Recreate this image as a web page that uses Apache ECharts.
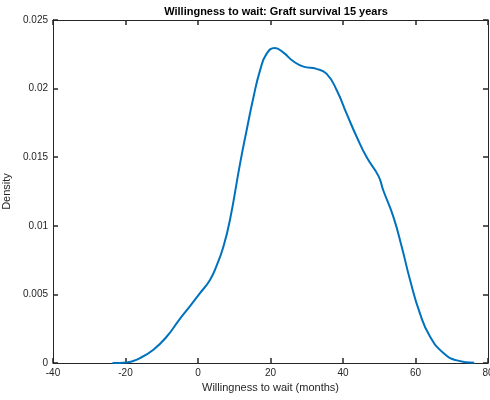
<!DOCTYPE html>
<html>
<head>
  <meta charset="UTF-8">
  <title>Willingness to wait</title>
  <script src="https://cdn.jsdelivr.net/npm/echarts@6/dist/echarts.min.js"></script>
</head>
<body style="margin:0">
  <div id="main" style="width: 490px;height: 400px;"></div>
  <script>
    // kernel density
    var waitMonths = [-23.6, -19.7, -16, -12.3, -8.6, -5.0, -2.2, 0.55, 3.3, 5.2, 7.0, 8.8, 11.6, 13.4, 15.3, 17.1,
      18.9, 21.2, 23.5, 26.3, 29.1, 32.7, 35.5, 38.3, 41.0, 43.8, 46.5, 49.8, 51.1, 53.9, 56.2, 58.5,
      61.2, 64.0, 67.7, 71.4, 76.2]
    var density = [0, 0.00004, 0.00036, 0.00097, 0.00193, 0.00322, 0.00415, 0.00509, 0.00605, 0.00714, 0.00847, 0.0104,
      0.01453, 0.01695, 0.01937, 0.02131, 0.02253, 0.02296, 0.02264, 0.02199, 0.0216, 0.02144, 0.02107, 0.01986,
      0.01817, 0.01647, 0.01501, 0.01362, 0.01259, 0.01065, 0.00847, 0.00605, 0.00363, 0.00193, 0.00073,
      0.00019, 0.00001]

    var pts = waitMonths.map(function (x, i) { return [x, density[i]] })
    var ink = '#262626'
    var font = 'Liberation Sans, Arial, sans-serif'

    // matlab style box: ticks point inwards on all four sides
    function tick() {
      return { show: true, inside: true, length: 5, lineStyle: { color: ink, width: 1.5 } }
    }

    var mCharts = echarts.init(document.getElementById('main'))
    var option = {
      animation: false,
      title: {
        text: 'Willingness to wait: Graft survival 15 years',
        left: 271,
        top: 1,
        textAlign: 'center',
        textStyle: { fontSize: 11, fontWeight: 'bold', color: '#000', fontFamily: font }
      },
      grid: { left: 53, right: 2, top: 20, bottom: 37, outerBoundsMode: 'none', containLabel: false },
      xAxis: [
        {
          type: 'value', min: -40, max: 80, interval: 20,
          name: 'Willingness to wait (months)', nameLocation: 'middle', nameGap: 19,
          nameTextStyle: { fontSize: 11, color: ink, fontFamily: font },
          axisLine: { show: true, onZero: false, lineStyle: { color: ink } },
          axisTick: tick(),
          axisLabel: { fontSize: 10, color: ink, fontFamily: font, margin: 5 },
          splitLine: { show: false }
        },
        {
          type: 'value', position: 'top', min: -40, max: 80, interval: 20,
          axisLine: { show: true, onZero: false, lineStyle: { color: ink } },
          axisTick: tick(),
          axisLabel: { show: false },
          splitLine: { show: false }
        }
      ],
      yAxis: [
        {
          type: 'value', min: 0, max: 0.025, interval: 0.005,
          name: 'Density', nameLocation: 'middle', nameGap: 30,
          nameTextStyle: { fontSize: 11, color: ink, fontFamily: font },
          axisLine: { show: true, onZero: false, lineStyle: { color: ink } },
          axisTick: tick(),
          axisLabel: { fontSize: 10, color: ink, fontFamily: font, margin: 5 },
          splitLine: { show: false }
        },
        {
          type: 'value', position: 'right', min: 0, max: 0.025, interval: 0.005,
          axisLine: { show: true, onZero: false, lineStyle: { color: ink } },
          axisTick: tick(),
          axisLabel: { show: false },
          splitLine: { show: false }
        }
      ],
      series: [
        {
          type: 'line',
          data: pts,
          smooth: 0.5,
          showSymbol: false,
          lineStyle: { color: '#0072BD', width: 2 }
        }
      ]
    }
    mCharts.setOption(option)
  </script>
</body>
</html>
